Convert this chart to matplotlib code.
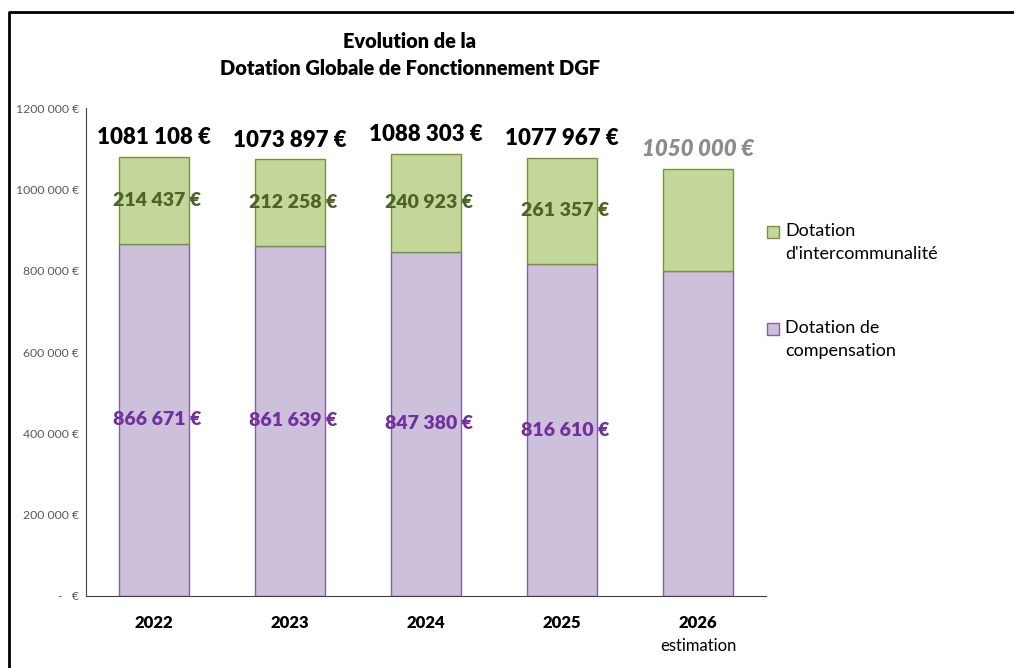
import matplotlib.pyplot as plt
import numpy as np
from matplotlib.lines import Line2D
from matplotlib.patches import Rectangle

plt.rcParams['font.family'] = ['Lato', 'DejaVu Sans']

years = ['2022', '2023', '2024', '2025', '2026']
year_notes = ['', '', '', '', 'estimation']
compensation = [866671, 861639, 847380, 816610, 800000]
intercommunalite = [214437, 212258, 240923, 261357, 250000]
totals = [1081108, 1073897, 1088303, 1077967, 1050000]
show_parts = [True, True, True, True, False]
estimated = [False, False, False, False, True]
y_ticks = [0, 200000, 400000, 600000, 800000, 1000000, 1200000]
series_names = ["Dotation\nd'intercommunalité", 'Dotation de\ncompensation']

green_fill, green_edge, green_text = '#C4D79B', '#76933C', '#4F6228'
purple_fill, purple_edge, purple_text = '#CCC0DA', '#8064A2', '#7030A0'


def euro(v):
    if v == 0:
        return '-   €'
    return f"{v // 1000} {v % 1000:03d} €"


fig = plt.figure(figsize=(10.14, 6.68), dpi=100)
ax = fig.add_axes([0.0848, 0.1078, 0.6706, 0.7302])

x = np.arange(len(years))
w = 0.51
ax.bar(x, compensation, w, color=purple_fill, edgecolor=purple_edge, linewidth=1)
ax.bar(x, intercommunalite, w, bottom=compensation, color=green_fill, edgecolor=green_edge,
       linewidth=1)

for i in range(len(years)):
    if show_parts[i]:
        ax.text(x[i] + 0.02, compensation[i] / 2, euro(compensation[i]), ha='center', va='center',
                fontsize=14, fontweight='heavy', color=purple_text)
        ax.text(x[i] + 0.02, compensation[i] + intercommunalite[i] / 2, euro(intercommunalite[i]),
                ha='center', va='center', fontsize=14, fontweight='heavy', color=green_text)
    if estimated[i]:
        ax.text(x[i], totals[i] + 22000, euro(totals[i]), ha='center', va='bottom',
                fontsize=16, fontweight='heavy', style='italic', color='#8C8C8C')
    else:
        ax.text(x[i], totals[i] + 22000, euro(totals[i]), ha='center', va='bottom',
                fontsize=16, fontweight='heavy', color='black')

ax.set_xlim(-0.5, len(years) - 0.5)
ax.set_ylim(0, 1200000)
ax.set_yticks(y_ticks)
ax.set_yticklabels([euro(v) for v in y_ticks], fontsize=8.8, color='#595959')
ax.set_xticks(x)
ax.set_xticklabels(years, fontsize=12, fontweight='heavy')
ax.tick_params(axis='both', length=0)
ax.tick_params(axis='x', pad=14)
ax.tick_params(axis='y', pad=5)
for i, note in enumerate(year_notes):
    if note:
        ax.annotate(note, xy=(x[i], 0), xycoords=('data', 'axes fraction'),
                    xytext=(0, -36), textcoords='offset points', ha='center', va='center',
                    fontsize=12)

ax.spines['top'].set_visible(False)
ax.spines['right'].set_visible(False)
ax.spines['left'].set_color('#404040')
ax.spines['bottom'].set_color('#404040')

# legend drawn by hand so the square sits on the first line of each label
legend_fills = [(green_fill, green_edge), (purple_fill, purple_edge)]
legend_tops = [1 - 226 / 668, 1 - 323 / 668]
for (fc, ec), name, top in zip(legend_fills, series_names, legend_tops):
    fig.add_artist(Rectangle((767 / 1014, top - 12 / 668), 12 / 1014, 12 / 668,
                             transform=fig.transFigure, facecolor=fc, edgecolor=ec, linewidth=1))
    fig.text(785 / 1014, top + 3 / 668, name, ha='left', va='top', fontsize=13, linespacing=1.55)

fig.text(0.404, 0.918, 'Evolution de la\nDotation Globale de Fonctionnement DGF', ha='center',
         va='center', fontsize=14.4, fontweight='heavy', linespacing=1.5)

fig.add_artist(Line2D([0.0089, 0.0089, 1.0], [0.0, 0.982, 0.982], transform=fig.transFigure,
                      color='black', linewidth=2))

fig.savefig('out.png', dpi=100)
